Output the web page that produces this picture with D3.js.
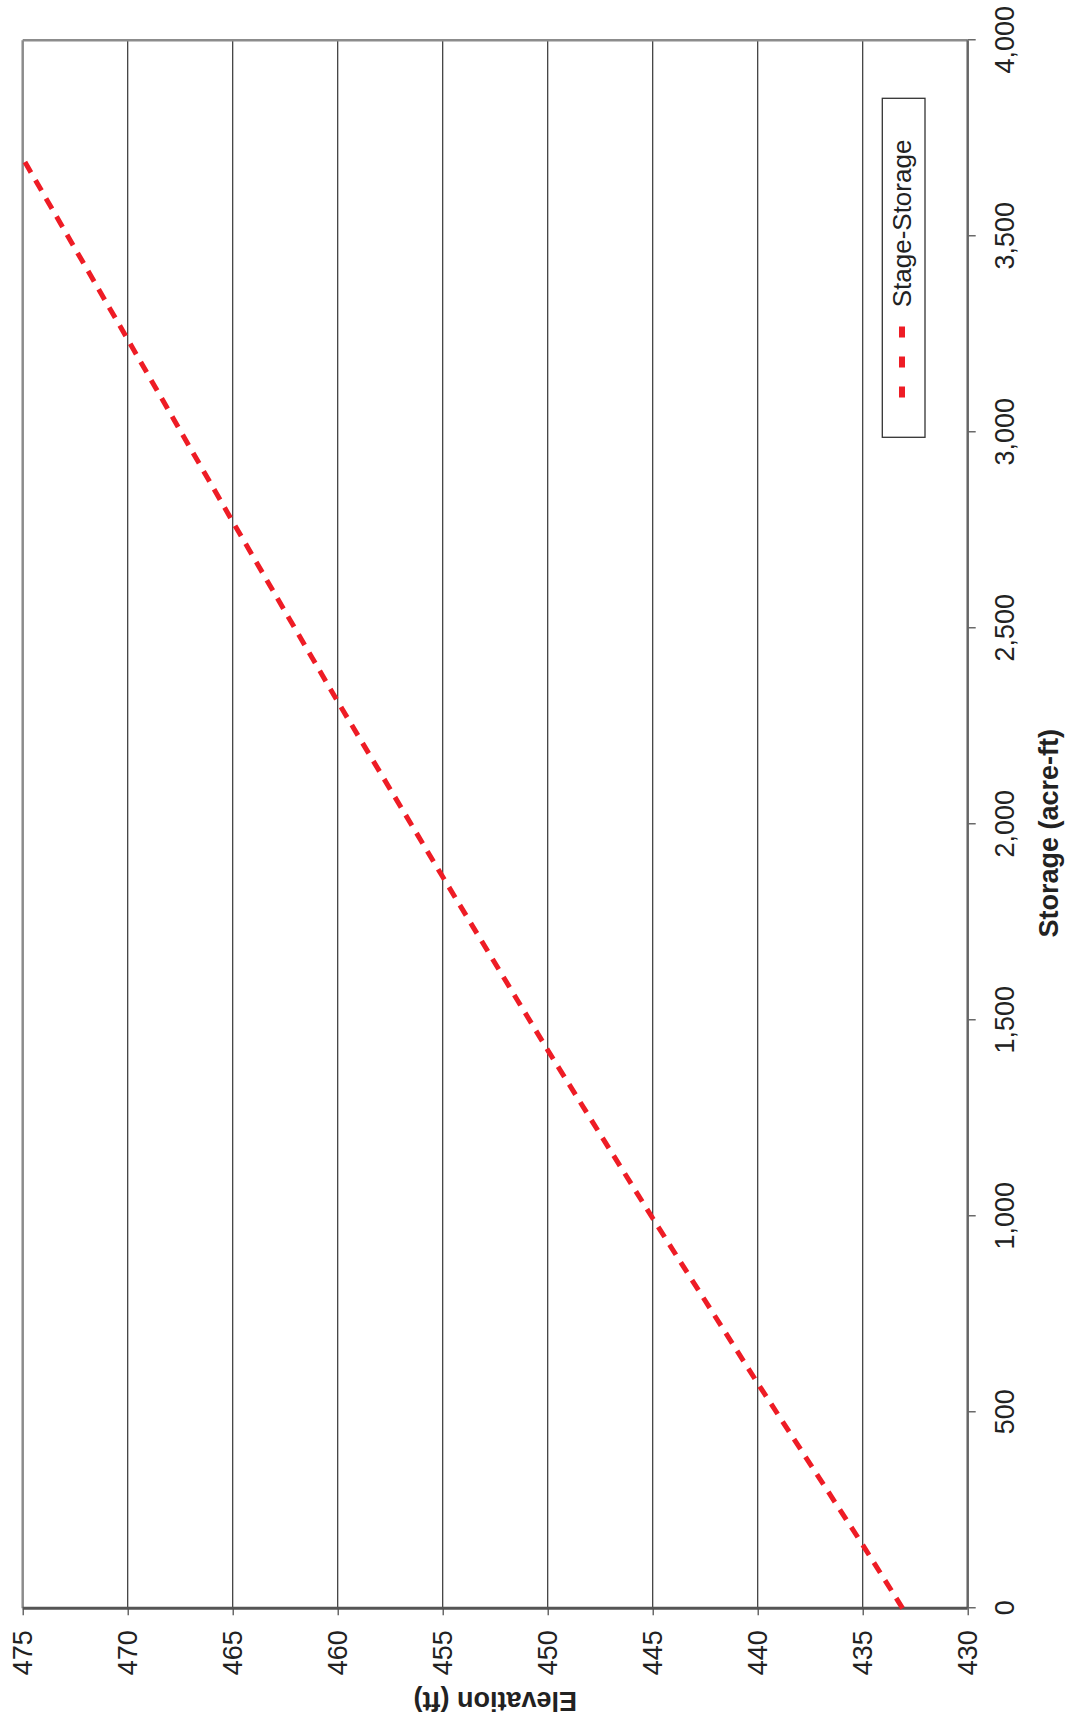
<!DOCTYPE html>
<html lang="en">

<head>
    <meta charset="utf-8">
    <script src="https://cdn.jsdelivr.net/npm/d3@7"></script>
    <style>
        body {
            margin: 0;
            background: #fff;
        }

        text {
            font-family: "Liberation Sans", Arial, sans-serif;
            fill: #222;
        }
    </style>
</head>

<body>
    <div id="my_dataviz"></div>

    <script>
        // data
        const elevation = [433.1, 435, 440, 445, 450, 455, 460, 465, 470, 474.9];
        const storage = [0, 162, 574, 995, 1424, 1866, 2313, 2772, 3237, 3690];
        const storageTicks = [0, 500, 1000, 1500, 2000, 2500, 3000, 3500, 4000];
        const elevTicks = [430, 435, 440, 445, 450, 455, 460, 465, 470, 475];
        const seriesName = "Stage-Storage";

        // chart is drawn normally, then turned a quarter to the left
        const W = 1568, H = 945;
        const origin = { x: 22.7, y: 1608.3 };

        const svg = d3.select("#my_dataviz")
            .append("svg")
            .attr("width", 1073)
            .attr("height", 1726);

        const g = svg.append("g")
            .attr("transform", `translate(${origin.x},${origin.y}) rotate(-90)`);

        const x = d3.scaleLinear().domain([0, 4000]).range([0, W]);
        const y = d3.scaleLinear().domain([430, 475]).range([H, 0]);

        // gridlines
        g.selectAll(".grid")
            .data(elevTicks.filter(d => d > 430 && d < 475))
            .join("line")
            .attr("x1", 0).attr("x2", W)
            .attr("y1", d => y(d)).attr("y2", d => y(d))
            .attr("stroke", "#333")
            .attr("stroke-width", 1.2);

        // plot border (top / right light gray)
        g.append("line").attr("x1", 0).attr("x2", W).attr("y1", 0).attr("y2", 0)
            .attr("stroke", "#8c8c8c").attr("stroke-width", 2.5);
        g.append("line").attr("x1", W).attr("x2", W).attr("y1", 0).attr("y2", H)
            .attr("stroke", "#8c8c8c").attr("stroke-width", 2.5);

        // X axis (storage)
        const xAxis = g.append("g")
            .attr("transform", `translate(0,${H})`)
            .call(d3.axisBottom(x).tickValues(storageTicks).tickSize(8).tickPadding(19)
                .tickFormat(d3.format(",")));
        xAxis.select(".domain").remove();
        xAxis.selectAll(".tick line").attr("stroke", "#444").attr("stroke-width", 1.2);
        xAxis.selectAll("text").style("font-size", "27px").attr("fill", "#222");

        // Y axis (elevation)
        const yAxis = g.append("g")
            .call(d3.axisLeft(y).tickValues(elevTicks).tickSize(7).tickPadding(15));
        yAxis.select(".domain").remove();
        yAxis.selectAll(".tick line").attr("stroke", "#444").attr("stroke-width", 1.2);
        yAxis.selectAll("text").style("font-size", "27px").attr("fill", "#222");

        // axis lines
        g.append("line").attr("x1", 0).attr("x2", W).attr("y1", H).attr("y2", H)
            .attr("stroke", "#666").attr("stroke-width", 2.5);
        g.append("line").attr("x1", 0).attr("x2", 0).attr("y1", 0).attr("y2", H)
            .attr("stroke", "#555").attr("stroke-width", 3);

        // axis titles
        g.append("text")
            .attr("x", 775)
            .attr("y", H + 90)
            .attr("text-anchor", "middle")
            .style("font-size", "27px")
            .style("font-weight", "bold")
            .text("Storage (acre-ft)");

        g.append("text")
            .attr("transform", `translate(-84,${H / 2}) rotate(-90)`)
            .attr("text-anchor", "middle")
            .style("font-size", "27px")
            .style("font-weight", "bold")
            .text("Elevation (ft)");

        // line
        const pts = storage.map((s, i) => ({ s, e: elevation[i] }));
        g.append("path")
            .datum(pts)
            .attr("fill", "none")
            .attr("stroke", "#ee1c25")
            .attr("stroke-width", 5)
            .attr("stroke-dasharray", "12,9")
            .attr("d", d3.line().x(d => x(d.s)).y(d => y(d.e)));

        // legend
        const lg = g.append("g").attr("transform", "translate(1171,859.6)");
        lg.append("rect")
            .attr("width", 339).attr("height", 42.7)
            .attr("fill", "#fff")
            .attr("stroke", "#333").attr("stroke-width", 1.3);
        lg.append("line")
            .attr("x1", 39.8).attr("x2", 110.8)
            .attr("y1", 19.7).attr("y2", 19.7)
            .attr("stroke", "#ee1c25")
            .attr("stroke-width", 6)
            .attr("stroke-dasharray", "11,19");
        lg.append("text")
            .attr("x", 130)
            .attr("y", 28.5)
            .style("font-size", "26px")
            .text(seriesName);
    </script>

</body>

</html>
